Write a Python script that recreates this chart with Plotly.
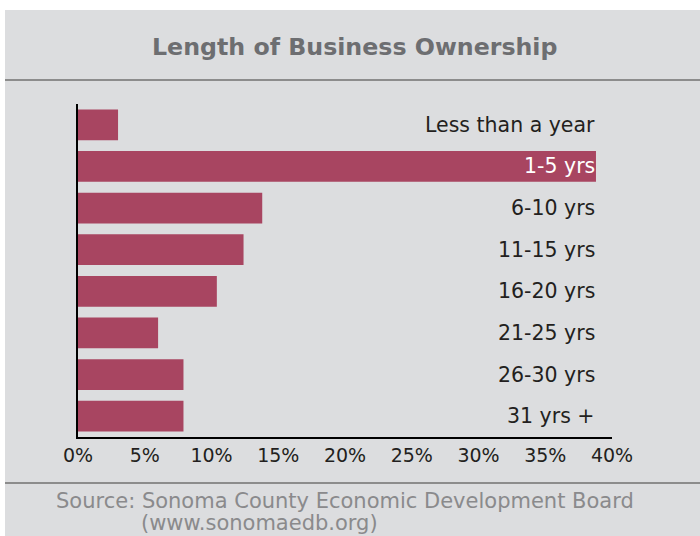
import plotly.graph_objects as go

# Share of business owners by how long they have owned the business (%)
categories = ["Less than a year", "1-5 yrs", "6-10 yrs", "11-15 yrs",
              "16-20 yrs", "21-25 yrs", "26-30 yrs", "31 yrs +"]
shares = [3.0, 38.8, 13.8, 12.4, 10.4, 6.0, 7.9, 7.9]
tick_values = [0, 5, 10, 15, 20, 25, 30, 35, 40]
tick_labels = [f"{v}%" for v in tick_values]

title_text = "Length of Business Ownership"
source_lines = ["Source: Sonoma County Economic Development Board",
                "(www.sonomaedb.org)"]

W, H = 700, 536
ML, MR, MT, MB = 78, 88, 104, 99
PW, PH = W - ML - MR, H - MT - MB

def px_x(x):
    return (x - ML) / PW

def px_y(y):
    return (H - MB - y) / PH

PANEL = "#dcdddf"
BAR = "#a84561"
RULE = "#8c8c8c"
FONT = "DejaVu Sans"

fig = go.Figure()
fig.add_trace(go.Bar(
    x=shares, y=categories, orientation="h",
    marker=dict(color=BAR, line=dict(width=0)),
    hoverinfo="skip",
))

# category names sit inside the plot, right-aligned near the end of the axis
for i, name in enumerate(categories):
    fig.add_annotation(
        x=px_x(597), xref="paper", y=name, yref="y",
        text=name, showarrow=False, xanchor="right", yanchor="middle",
        font=dict(family=FONT, size=20.5,
                  color="#ffffff" if shares[i] > 36 else "#231f20"),
    )

fig.add_annotation(
    x=px_x(354.5), xref="paper", y=px_y(47), yref="paper",
    text=f"<b>{title_text}</b>", showarrow=False,
    xanchor="center", yanchor="middle",
    font=dict(family=FONT, size=23.7, color="#6d6e71"),
)
fig.add_annotation(
    x=px_x(55), xref="paper", y=px_y(501), yref="paper",
    text=source_lines[0], showarrow=False, xanchor="left", yanchor="middle",
    borderpad=0,
    font=dict(family=FONT, size=21, color="#8a8a8c"),
)
fig.add_annotation(
    x=px_x(140), xref="paper", y=px_y(523), yref="paper",
    text=source_lines[1], showarrow=False, xanchor="left", yanchor="middle",
    borderpad=0,
    font=dict(family=FONT, size=21, color="#8a8a8c"),
)

shapes = [
    # grey panel (white strip left along top and left edge)
    dict(type="rect", xref="paper", yref="paper",
         x0=px_x(5), x1=px_x(W + 5), y0=px_y(H + 5), y1=px_y(10),
         fillcolor=PANEL, line=dict(width=0), layer="below"),
    dict(type="line", xref="paper", yref="paper",
         x0=px_x(5), x1=px_x(W + 5), y0=px_y(80), y1=px_y(80),
         line=dict(color=RULE, width=2)),
    dict(type="line", xref="paper", yref="paper",
         x0=px_x(5), x1=px_x(W + 5), y0=px_y(483), y1=px_y(483),
         line=dict(color=RULE, width=2)),
]

fig.update_layout(
    width=W, height=H,
    margin=dict(l=ML, r=MR, t=MT, b=MB, pad=0),
    paper_bgcolor="#ffffff",
    plot_bgcolor=PANEL,
    showlegend=False,
    bargap=0.26,
    shapes=shapes,
    xaxis=dict(
        range=[0, 40], tickvals=tick_values, ticktext=tick_labels,
        showgrid=False, zeroline=False, ticks="",
        showline=True, linecolor="#000000", linewidth=2,
        tickfont=dict(family=FONT, size=19, color="#231f20"),
        fixedrange=True,
    ),
    yaxis=dict(
        categoryorder="array", categoryarray=categories,
        range=[len(categories) - 0.5, -0.5],
        showticklabels=False, showgrid=False, zeroline=False, ticks="",
        showline=True, linecolor="#000000", linewidth=2,
        fixedrange=True,
    ),
)

fig.write_html("out.html")
